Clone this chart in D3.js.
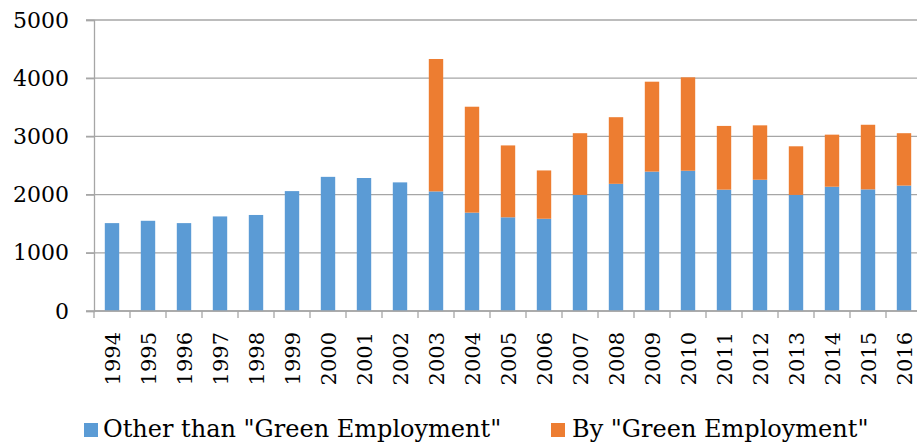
<!DOCTYPE html>
<html><head><meta charset="utf-8">
<script src="https://cdn.jsdelivr.net/npm/d3@7"></script>
<style>body{margin:0;background:#fff}svg{display:block}</style>
</head><body>
<script>
const years = ["1994","1995","1996","1997","1998","1999","2000","2001","2002","2003","2004","2005","2006","2007","2008","2009","2010","2011","2012","2013","2014","2015","2016"];
const otherVals = [1510,1550,1510,1625,1650,2060,2305,2285,2210,2055,1690,1610,1585,1995,2185,2395,2410,2085,2255,1995,2135,2090,2155];
const greenVals = [0,0,0,0,0,0,0,0,0,2275,1820,1235,830,1060,1145,1545,1605,1095,935,835,895,1110,900];
const yTicks = [0,1000,2000,3000,4000,5000];
const seriesNames = ['Other than "Green Employment"','By "Green Employment"'];
const colors = ["#5B9BD5","#ED7D31"];

const W=917,H=445;
const FONT='"DejaVu Serif", serif';
const svg=d3.select("body").append("svg").attr("width",W).attr("height",H);
const x=d3.scaleBand().domain(years).range([94,922]).paddingInner(0.6).paddingOuter(0.3);
const y=d3.scaleLinear().domain([0,5000]).range([311,20]);

// gridlines
svg.append("g").selectAll("line").data(yTicks).join("line")
  .attr("x1",86).attr("x2",922).attr("y1",d=>y(d)).attr("y2",d=>y(d))
  .attr("stroke","#a6a6a6").attr("stroke-width",1.3);

// y axis
const ya=svg.append("g").attr("transform","translate(94,0)")
  .call(d3.axisLeft(y).tickValues(yTicks).tickSize(8).tickPadding(17).tickFormat(d3.format("d")));
ya.select(".domain").attr("stroke","#a6a6a6").attr("stroke-width",1.3);
ya.selectAll(".tick line").attr("stroke","#a6a6a6").attr("stroke-width",1.3);
ya.selectAll("text").attr("font-family",FONT).attr("font-size",22).attr("fill","#000");

// bars
const rows=years.map((yr,i)=>({year:yr,other:otherVals[i],green:greenVals[i]}));
const stack=d3.stack().keys(["other","green"])(rows);
svg.append("g").selectAll("g").data(stack).join("g").attr("fill",(d,i)=>colors[i])
  .selectAll("rect").data(d=>d).join("rect")
  .attr("x",d=>x(d.data.year)).attr("width",x.bandwidth())
  .attr("y",d=>y(d[1])).attr("height",d=>y(d[0])-y(d[1]));

// x axis
const xa=svg.append("g").attr("transform","translate(0,311)");
xa.append("line").attr("x1",94).attr("x2",922).attr("stroke","#a6a6a6").attr("stroke-width",1.3);
const step=x.step();
const boundaries=d3.range(years.length+1).map(i=>94+i*step);
xa.selectAll("line.tk").data(boundaries).join("line").attr("class","tk")
  .attr("x1",d=>d).attr("x2",d=>d).attr("y1",0).attr("y2",7)
  .attr("stroke","#a6a6a6").attr("stroke-width",1.3);
xa.selectAll("text").data(years).join("text")
  .attr("transform",d=>`translate(${x(d)+x.bandwidth()/2+7.5},21) rotate(-90)`)
  .attr("text-anchor","end").attr("font-family",FONT).attr("font-size",21).attr("fill","#000")
  .text(d=>d);

// legend
const leg=[{x:84,tx:103},{x:551,tx:572}];
seriesNames.forEach((n,i)=>{
  svg.append("rect").attr("x",leg[i].x).attr("y",423).attr("width",14).attr("height",14).attr("fill",colors[i]);
  svg.append("text").attr("x",leg[i].tx).attr("y",437).attr("font-family",FONT).attr("font-size",24).attr("fill","#000").text(n);
});
</script>
</body></html>
